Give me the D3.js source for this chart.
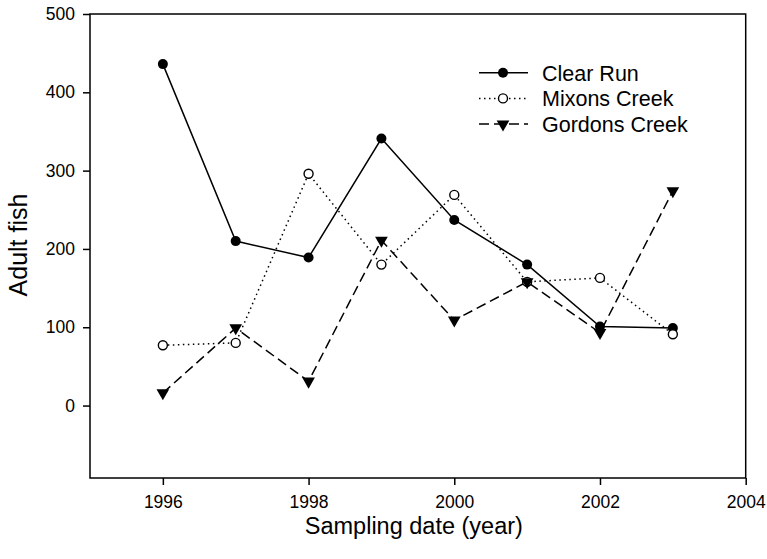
<!DOCTYPE html>
<meta charset="utf-8">
<head>
    <title>Adult fish</title>
</head>
<style>
    body { margin: 0; background: #fff; }
    text { font-family: "Liberation Sans", Arial, sans-serif; fill: #000; }
    .axis path, .axis line { stroke: #000; stroke-width: 1.5px; }
</style>
<svg width="767" height="559"></svg>
<script src="https://d3js.org/d3.v7.min.js"></script>
<script>

    var years = [1996, 1997, 1998, 1999, 2000, 2001, 2002, 2003];
    var clearRun = [436, 210, 189, 341, 237, 180, 101, 99];
    var mixonsCreek = [77, 80, 296, 180, 269, 158, 163, 91];
    var gordonsCreek = [16, 99, 31, 211, 109, 158, 93, 274];
    var xTicks = [1996, 1998, 2000, 2002, 2004];
    var yTicks = [0, 100, 200, 300, 400, 500];

    var series = [
        {name: "Clear Run", values: clearRun, dash: null, marker: "dot"},
        {name: "Mixons Creek", values: mixonsCreek, dash: "1.5,3.5", marker: "open"},
        {name: "Gordons Creek", values: gordonsCreek, dash: "10,5", marker: "tri"}
    ];

    var svg = d3.select("svg"),
        plotL = 90, plotR = 745.7, plotT = 14, plotB = 478;

    var x = d3.scaleLinear().domain([1995, 2004]).range([plotL, plotR]);
    var y = d3.scaleLinear().domain([-92.5, 500]).range([plotB, plotT]);

    // frame
    svg.append("rect")
        .attr("x", plotL).attr("y", plotT)
        .attr("width", plotR - plotL).attr("height", plotB - plotT)
        .attr("fill", "none").attr("stroke", "#000").attr("stroke-width", 1.5);

    function tidy(g) {
        g.select(".domain").remove();
        g.selectAll("text")
            .style("font-size", "17.5px")
            .style("font-family", "'Liberation Sans', Arial, sans-serif");
    }

    svg.append("g").attr("class", "axis")
        .attr("transform", "translate(0," + plotB + ")")
        .call(d3.axisBottom(x).tickValues(xTicks).tickFormat(d3.format("d")).tickSizeOuter(0).tickSize(7).tickPadding(11))
        .call(tidy);

    svg.append("g").attr("class", "axis")
        .attr("transform", "translate(" + plotL + ",0)")
        .call(d3.axisLeft(y).tickValues(yTicks).tickSizeOuter(0).tickSize(7).tickPadding(8))
        .call(tidy);

    svg.append("text")
        .attr("x", (plotL + plotR) / 2 - 4).attr("y", 534)
        .attr("text-anchor", "middle")
        .style("font-size", "23.5px")
        .text("Sampling date (year)");

    svg.append("text")
        .attr("transform", "translate(27,245) rotate(-90)")
        .attr("text-anchor", "middle")
        .style("font-size", "25px")
        .text("Adult fish");

    var line = d3.line()
        .x(function(d, i) { return x(years[i]); })
        .y(function(d) { return y(d); });

    var tri = d3.symbol().type(d3.symbolTriangle).size(70);

    function marker(sel, kind) {
        if (kind === "dot") {
            sel.append("circle").attr("r", 5).attr("fill", "#000");
        } else if (kind === "open") {
            sel.append("circle").attr("r", 4.5).attr("fill", "#fff")
                .attr("stroke", "#000").attr("stroke-width", 1.4);
        } else {
            sel.append("path").attr("d", tri).attr("transform", "rotate(180)").attr("fill", "#000");
        }
    }

    series.forEach(function(s) {
        svg.append("path")
            .datum(s.values)
            .attr("d", line)
            .attr("fill", "none")
            .attr("stroke", "#000")
            .attr("stroke-width", 1.5)
            .attr("stroke-dasharray", s.dash);
    });

    series.forEach(function(s) {
        svg.selectAll(null)
            .data(s.values)
            .enter().append("g")
            .attr("transform", function(d, i) { return "translate(" + x(years[i]) + "," + y(d) + ")"; })
            .each(function() { marker(d3.select(this), s.marker); });
    });

    // legend
    var legend = svg.append("g");
    series.forEach(function(s, i) {
        var ly = 72.7 + i * 25.7;
        legend.append("line")
            .attr("x1", 479).attr("x2", 528).attr("y1", ly).attr("y2", ly)
            .attr("stroke", "#000").attr("stroke-width", 1.5)
            .attr("stroke-dasharray", s.dash);
        var m = legend.append("g").attr("transform", "translate(503," + ly + ")");
        marker(m, s.marker);
        legend.append("text")
            .attr("x", 542).attr("y", ly + 8)
            .style("font-size", "21.5px")
            .text(s.name);
    });

</script>
